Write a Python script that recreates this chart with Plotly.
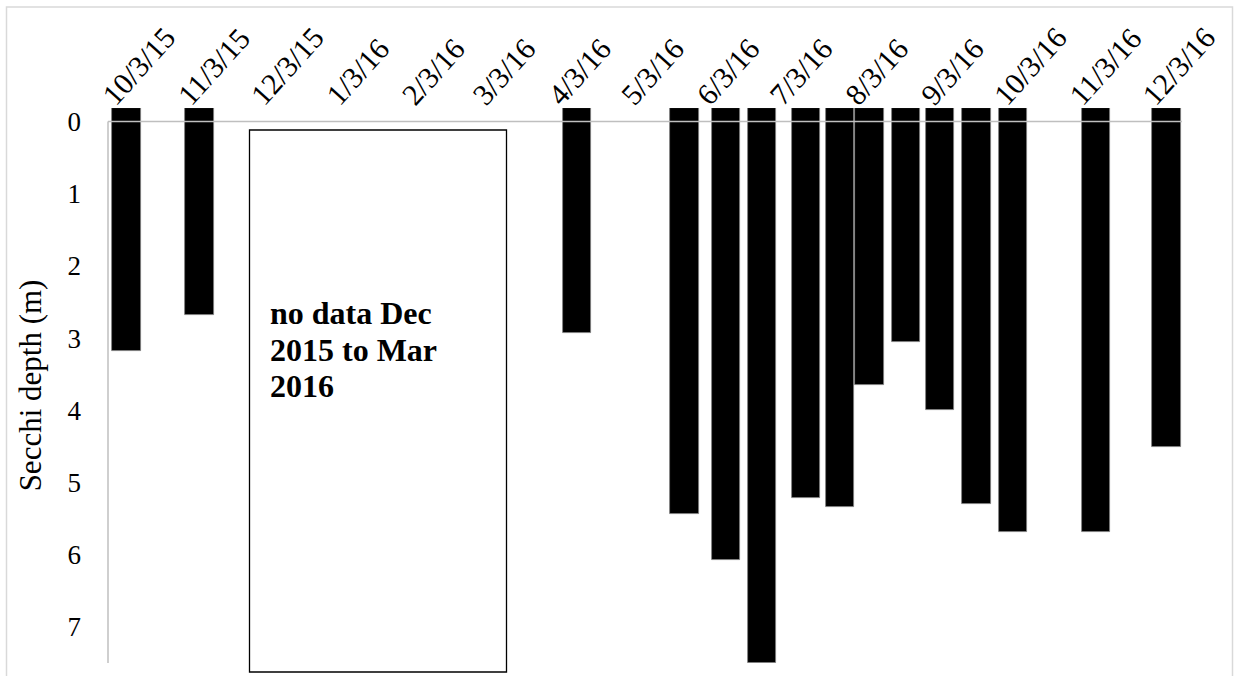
import plotly.graph_objects as go

# ---- data ----
sample_dates = ["2015-10-03", "2015-11-02", "2016-04-05", "2016-05-19", "2016-06-05",
                "2016-06-20", "2016-07-08", "2016-07-22", "2016-08-03", "2016-08-18",
                "2016-09-01", "2016-09-16", "2016-10-01", "2016-11-04", "2016-12-03"]
secchi_depth = [3.18, 2.68, 2.93, 5.43, 6.08,
                7.50, 5.22, 5.34, 3.65, 3.06,
                3.99, 5.30, 5.68, 5.68, 4.51]

tick_dates = ["2015-10-03", "2015-11-03", "2015-12-03", "2016-01-03", "2016-02-03",
              "2016-03-03", "2016-04-03", "2016-05-03", "2016-06-03", "2016-07-03",
              "2016-08-03", "2016-09-03", "2016-10-03", "2016-11-03", "2016-12-03"]
tick_labels = ["10/3/15", "11/3/15", "12/3/15", "1/3/16", "2/3/16", "3/3/16", "4/3/16",
               "5/3/16", "6/3/16", "7/3/16", "8/3/16", "9/3/16", "10/3/16", "11/3/16", "12/3/16"]
y_ticks = [0, 1, 2, 3, 4, 5, 6, 7]
note_lines = ["no data Dec", "2015 to Mar", "2016"]

# ---- layout geometry ----
W, H = 1234, 676
ML, MR, MT, MB = 108, 52, 108, 13
BAR_TOP = -0.186          # bars hang from the top edge of the plot area
Y_MAX = 7.5
X_RANGE = ["2015-09-25 09:50", "2016-12-09 07:10"]
BAR_WIDTH_MS = 11.66 * 86400000

FONT = "Liberation Serif, Times New Roman, serif"
pw = W - ML - MR
ph = H - MT - MB

def px_to_paper_x(px):
    return (px - ML) / pw

def px_to_paper_y(py):
    return (H - MB - py) / ph

fig = go.Figure()
fig.add_trace(go.Bar(
    x=sample_dates,
    y=[d - BAR_TOP for d in secchi_depth],
    base=BAR_TOP,
    width=BAR_WIDTH_MS,
    marker=dict(color="black", line=dict(color="#7f7f7f", width=0.8)),
    customdata=secchi_depth,
    hovertemplate="%{x|%m/%d/%y}: %{customdata} m<extra></extra>",
))

line_col = "#bfbfbf"
shapes = [
    # outer chart border
    dict(type="rect", xref="paper", yref="paper",
         x0=px_to_paper_x(6.5), x1=px_to_paper_x(1232.5),
         y0=px_to_paper_y(690), y1=px_to_paper_y(7),
         line=dict(color="#d9d9d9", width=1.5), layer="below"),
    # y = 0 line (horizontal axis)
    dict(type="line", xref="paper", yref="y", x0=0, x1=1, y0=0, y1=0,
         line=dict(color=line_col, width=1.5), layer="above"),
    # vertical axis line
    dict(type="line", xref="paper", yref="y", x0=0, x1=0, y0=0, y1=Y_MAX,
         line=dict(color=line_col, width=1.5), layer="above"),
    # no-data box
    dict(type="rect", xref="paper", yref="paper",
         x0=px_to_paper_x(249.5), x1=px_to_paper_x(506.5),
         y0=px_to_paper_y(672), y1=px_to_paper_y(130),
         line=dict(color="black", width=1.3), fillcolor="white", layer="above"),
]

annotations = []
for i, line in enumerate(note_lines):
    annotations.append(dict(
        text=line, xref="paper", yref="paper",
        x=px_to_paper_x(268), y=px_to_paper_y(293 + 36.7 * i),
        xanchor="left", yanchor="top", align="left", showarrow=False,
        font=dict(family=FONT, size=32, color="black", weight="bold"),
    ))

fig.update_layout(
    width=W, height=H,
    margin=dict(l=ML, r=MR, t=MT, b=MB, autoexpand=False),
    paper_bgcolor="white", plot_bgcolor="white",
    showlegend=False,
    font=dict(family=FONT, color="black", size=26),
    shapes=shapes,
    annotations=annotations,
    bargap=0,
)

fig.update_xaxes(
    type="date", side="top", range=X_RANGE,
    tickmode="array", tickvals=tick_dates, ticktext=tick_labels,
    tickangle=-48, ticks="", showgrid=False, showline=False, zeroline=False,
    tickfont=dict(family=FONT, size=30, color="black"),
    ticklabelstandoff=-11, ticklabelshift=-22, ticklabeloverflow="allow",
)
fig.update_yaxes(
    range=[Y_MAX, BAR_TOP], tickmode="array", tickvals=y_ticks,
    ticks="", showgrid=False, showline=False, zeroline=False,
    tickfont=dict(family=FONT, size=27, color="black"),
    ticklabelstandoff=26,
    title=dict(text="Secchi depth (m)", font=dict(family=FONT, size=31, color="black"),
               standoff=16),
)

fig.write_html(
    "out.html",
    config={"displayModeBar": False},
    post_script="document.body.style.margin='0';document.body.style.overflow='hidden';",
)
